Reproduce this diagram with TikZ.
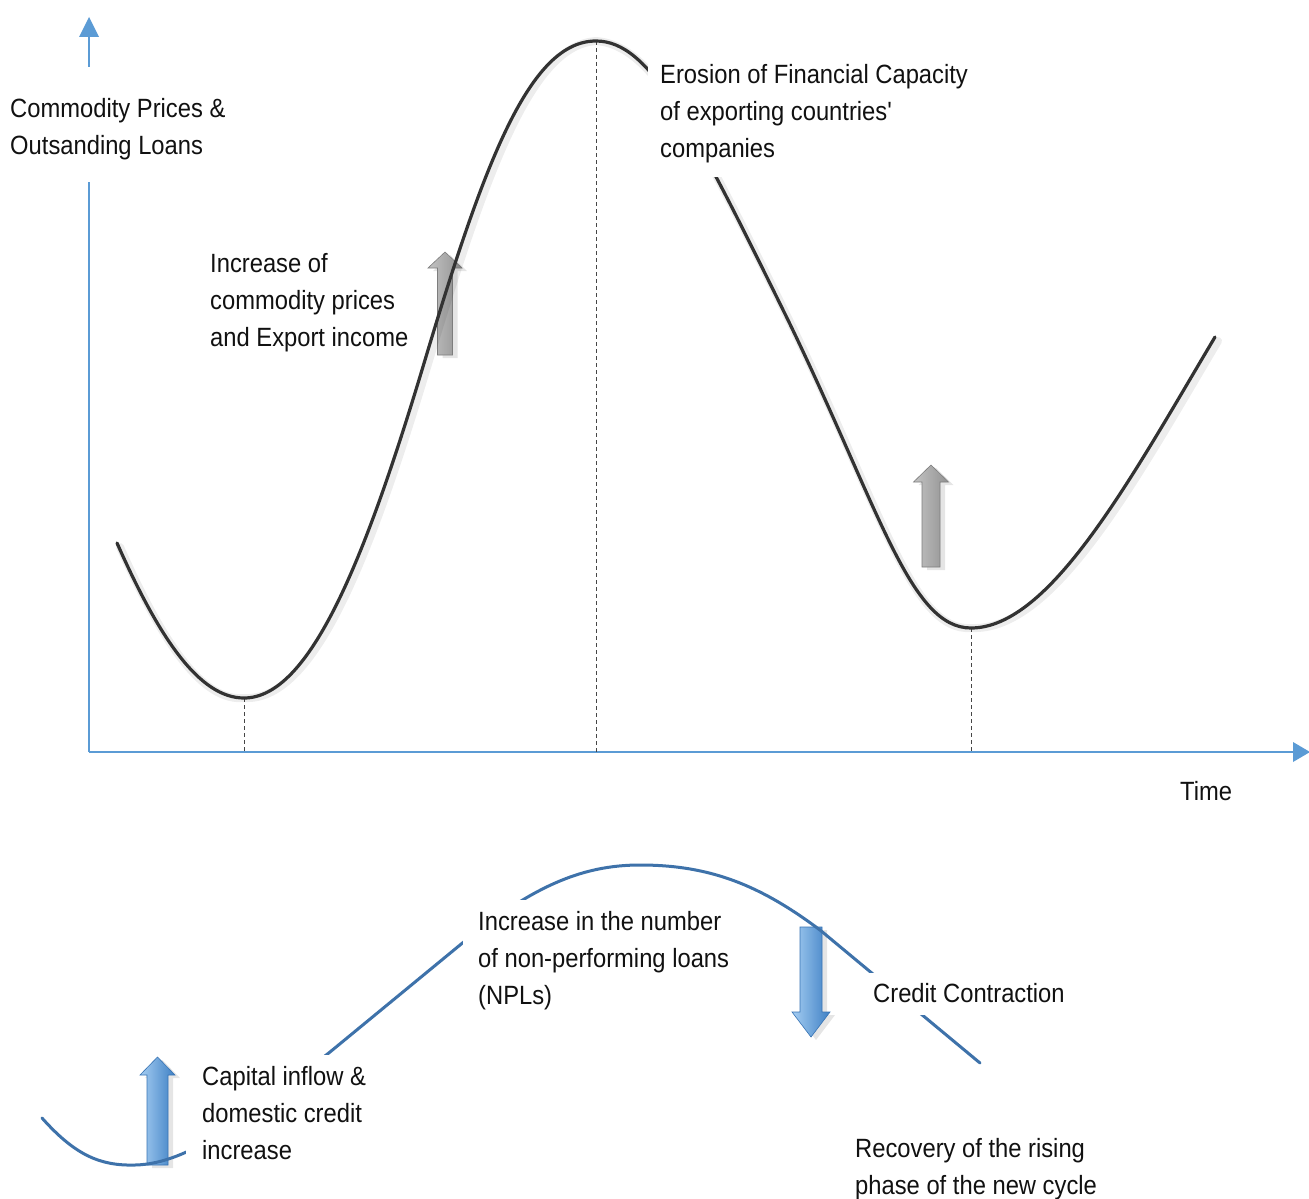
\documentclass[tikz,border=0pt]{standalone}
\usepackage{fontspec}
\setmainfont{Liberation Sans}[FakeStretch=0.9]
\definecolor{axisblue}{RGB}{91,155,213}
\definecolor{curveblue}{RGB}{62,114,170}
\definecolor{curvedark}{RGB}{50,50,50}
\definecolor{dashgray}{RGB}{70,70,70}
\definecolor{txt}{RGB}{17,17,17}
\definecolor{garL}{RGB}{195,195,195}
\definecolor{garM}{RGB}{228,228,228}
\definecolor{garR}{RGB}{145,145,145}
\definecolor{garD}{RGB}{125,125,125}
\definecolor{barL}{RGB}{165,205,242}
\definecolor{barM}{RGB}{118,178,234}
\definecolor{barR}{RGB}{62,128,196}
\definecolor{barD}{RGB}{55,115,180}
\newcommand\myArrPath[6]{(#1-#5,#4) -- (#1-#5,#3) -- (#1-#6,#3) -- (#1,#2) -- (#1+#6,#3) -- (#1+#5,#3) -- (#1+#5,#4) -- cycle}
\begin{document}
\begin{tikzpicture}[x=1pt,y=-1pt,
  lbl/.style={anchor=north west, inner sep=0pt, align=left,
    font=\fontsize{26.4}{37}\selectfont, text=txt},
  axisline/.style={draw=axisblue, line width=1.6pt},
  axishead/.style={fill=axisblue},
  guide/.style={draw=dashgray, line width=0.8pt, dash pattern=on 4pt off 3pt},
  arrshadow/.style={fill=black, opacity=0.10},
  grayarrow/.style={left color=garL, middle color=garM, right color=garR, draw=garD, line width=0.6pt},
  bluearrow/.style={left color=barL, middle color=barM, right color=barR, draw=barD, line width=0.6pt},
  maskbox/.style={fill=white},
  blackcurve/.style={draw=curvedark, line width=3.2pt, line cap=round},
  blackshadow/.style={draw=black, line width=8pt, opacity=0.07, line cap=round},
  bluecurve/.style={draw=curveblue, line width=3pt, line cap=round}]
\useasboundingbox[fill=white] (0,0) rectangle (1309,1199);

% axes
\coordinate (origin) at (89,752);
\coordinate (ytip) at (89,17);
\coordinate (xtip) at (1310,752);
\draw[axisline] (origin) -- (89,36);
\draw[axisline] (origin) -- (1294,752);
\fill[axishead] (79,37) -- (ytip) -- (99,37) -- cycle;
\fill[axishead] (1293,742) -- (xtip) -- (1293,762) -- cycle;

% guides
\coordinate (min1) at (244,698);
\coordinate (peak) at (596,41);
\coordinate (min2) at (971,628);
\draw[guide] (min1) -- (244,752);
\draw[guide] (peak) -- (596,752);
\draw[guide] (min2) -- (971,752);

% arrows (shadows + bodies)
\fill[arrshadow, xshift=5pt, yshift=-3pt] \myArrPath{445}{252}{268}{355}{7.5}{17};
\fill[arrshadow, xshift=5pt, yshift=-3pt] \myArrPath{931}{465}{482}{567}{9}{17.5};
\fill[arrshadow, xshift=5pt, yshift=-3pt] \myArrPath{157.5}{1057}{1075}{1165}{10.5}{17.5};
\fill[arrshadow, xshift=5pt, yshift=-3pt] \myArrPath{811}{1037}{1012}{927}{11}{19};
\shade[grayarrow] \myArrPath{445}{252}{268}{355}{7.5}{17};
\shade[grayarrow] \myArrPath{931}{465}{482}{567}{9}{17.5};
\shade[bluearrow] \myArrPath{157.5}{1057}{1075}{1165}{10.5}{17.5};
\shade[bluearrow] \myArrPath{811}{1037}{1012}{927}{11}{19};

% black curve
\draw[blackshadow, xshift=3pt, yshift=-4pt] (117,543) .. controls (160,640) and (200,698) .. (min1)
  .. controls (310,698) and (365,560) .. (425,360)
  .. controls (485,160) and (530,41) .. (peak)
  .. controls (650,41) and (692,125) .. (788,320)
  .. controls (880,510) and (910,628) .. (min2)
  .. controls (1050,628) and (1130,480) .. (1215,337);
\draw[blackcurve] (117,543) .. controls (160,640) and (200,698) .. (min1)
  .. controls (310,698) and (365,560) .. (425,360)
  .. controls (485,160) and (530,41) .. (peak)
  .. controls (650,41) and (692,125) .. (788,320)
  .. controls (880,510) and (910,628) .. (min2)
  .. controls (1050,628) and (1130,480) .. (1215,337);

% blue curve
\draw[bluecurve] (42,1118) .. controls (75,1155) and (100,1166) .. (135,1165)
  .. controls (190,1164) and (250,1115) .. (330,1052) -- (460,945)
  .. controls (530,888) and (580,865) .. (640,865)
  .. controls (710,865) and (760,885) .. (820,930) -- (980,1063);

% label backgrounds
\fill[maskbox] (0,67) rectangle (265,182);
\fill[maskbox] (648,40) rectangle (1000,177);
\fill[maskbox] (463,900) rectangle (760,1040);
\fill[maskbox] (835,973) rectangle (1110,1015);
\fill[maskbox] (186,1055) rectangle (465,1175);

% labels
\node[lbl] (commodity) at (10,90) {\rule{0pt}{27pt}Commodity Prices \&\\Outsanding Loans};
\node[lbl] (increase) at (210,245) {\rule{0pt}{27pt}Increase of\\commodity prices\\and Export income};
\node[lbl] (erosion) at (660,56) {\rule{0pt}{27pt}Erosion of Financial Capacity\\of exporting countries\textquotesingle\\companies};
\node[lbl] (time) at (1180,773) {\rule{0pt}{27pt}Time};
\node[lbl] (npl) at (478,903) {\rule{0pt}{27pt}Increase in the number\\of non-performing loans\\(NPLs)};
\node[lbl] (credit) at (873,975) {\rule{0pt}{27pt}Credit Contraction};
\node[lbl] (capital) at (202,1058) {\rule{0pt}{27pt}Capital inflow \&\\domestic credit\\increase};
\node[lbl] (recovery) at (855,1130) {\rule{0pt}{27pt}Recovery of the rising\\phase of the new cycle};
\end{tikzpicture}
\end{document}
